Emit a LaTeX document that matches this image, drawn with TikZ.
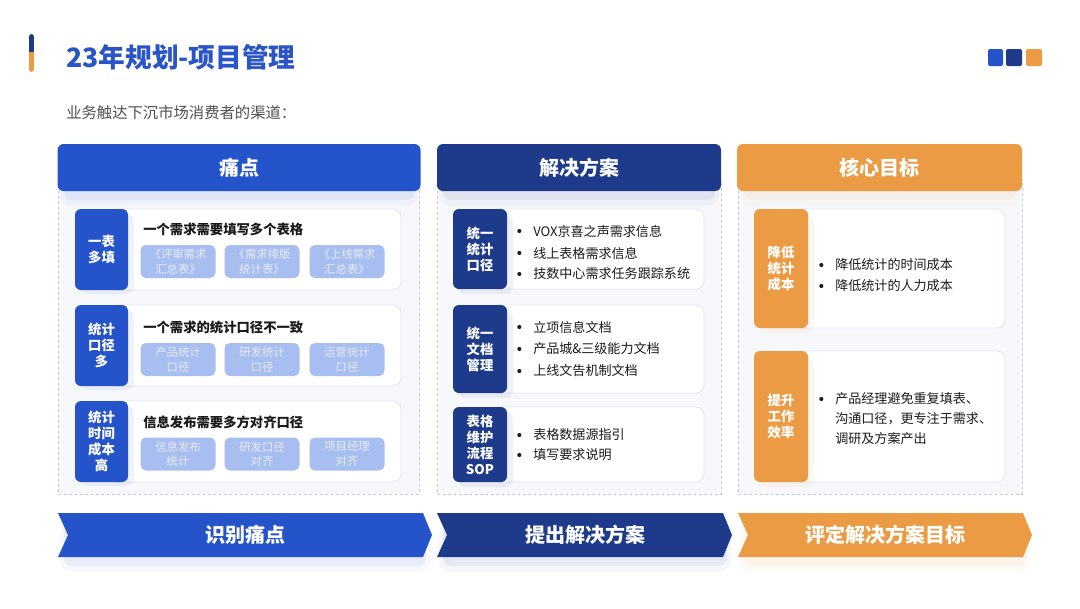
\documentclass[tikz,border=0pt]{standalone}
\usepackage{fontspec}
\setmainfont{Noto Sans CJK SC}
\definecolor{blueA}{HTML}{2553C9}
\definecolor{navyA}{HTML}{1E3A8A}
\definecolor{orangeA}{HTML}{EC9B45}
\definecolor{titleblue}{HTML}{2A55C8}
\definecolor{subfill}{HTML}{A9BEF0}
\definecolor{subtext}{HTML}{E6ECFB}
\definecolor{dashgray}{HTML}{C4C8D0}
\definecolor{panelbg}{HTML}{F7F8FC}
\definecolor{cardline}{HTML}{E0E5F3}
\definecolor{darktext}{HTML}{1A1A1A}
\definecolor{graytext}{HTML}{505050}
\newcommand{\pxu}{0.75pt}
\begin{document}
\begin{tikzpicture}[x=0.75pt,y=-0.75pt,
  softshade/.style={fill=#1, opacity=0.07, rounded corners=6pt},
  softouter/.style={fill=#1, opacity=0.04, rounded corners=9pt},
  hdr/.style={rounded corners=4.5pt, text=white, inner sep=0pt,
    font=\fontsize{15}{18}\selectfont\bfseries, minimum height=47*\pxu},
  panel/.style={draw=dashgray, line width=0.6pt, dash pattern=on 2pt off 2pt, fill=panelbg},
  card/.style={draw=cardline, line width=0.6pt, fill=white, rounded corners=6pt, inner sep=0pt},
  tabbox/.style={rounded corners=4.5pt, text=white, inner sep=0pt, align=center,
    font=\fontsize{10}{12}\selectfont\bfseries},
  subbox/.style={fill=subfill, rounded corners=4pt, text=subtext, inner sep=0pt, align=center,
    font=\fontsize{8.5}{11}\selectfont, minimum width=75*\pxu, minimum height=33*\pxu},
  ctitle/.style={anchor=west, inner sep=0pt, text=darktext, font=\fontsize{10}{12}\selectfont\bfseries},
  bdot/.style={circle, fill=darktext, inner sep=0pt, minimum size=3.1pt},
  item/.style={anchor=west, inner sep=0pt, text=darktext, font=\fontsize{9.8}{12}\selectfont},
  bitem/.style={item, label={[bdot, xshift=-8.5pt]west:{}}},
  arrtext/.style={text=white, inner sep=0pt, font=\fontsize{15}{18}\selectfont\bfseries}
]
\useasboundingbox (0,0) rectangle (1080,608);
\fill[white] (0,0) rectangle (1080,608);

% accent bar
\begin{scope}
\clip[rounded corners=2pt] (29,34) rectangle (34,72);
\fill[navyA] (29,34) rectangle (34,52);
\fill[orangeA] (29,52) rectangle (34,72);
\end{scope}

% title and subtitle
\node[anchor=west, inner sep=0pt, text=titleblue, font=\fontsize{20}{24}\selectfont\bfseries] (title) at (66,57) {23年规划-项目管理};
\node[anchor=west, inner sep=0pt, text=graytext, font=\fontsize{11.5}{14}\selectfont] (subtitle) at (66,113) {业务触达下沉市场消费者的渠道：};

% squares top right
\fill[blueA, rounded corners=1.5pt] (988,49) rectangle (1003,66);
\fill[navyA, rounded corners=1.5pt] (1006,49) rectangle (1022,66);
\fill[orangeA, rounded corners=1.5pt] (1026,49) rectangle (1042,66);

% panels
\path[panel] (58,180) rectangle (419,494);
\path[panel] (437,180) rectangle (721,494);
\path[panel] (738,180) rectangle (1022,494);

% soft glows under headers
\path[softouter=blueA] (60,160) rectangle (418,206);
\path[softshade=blueA] (64,160) rectangle (414,200);
\path[softouter=navyA] (439,160) rectangle (719,206);
\path[softshade=navyA] (443,160) rectangle (715,200);
\path[softouter=orangeA] (740,160) rectangle (1020,206);
\path[softshade=orangeA] (744,160) rectangle (1016,200);

% headers
\node[hdr, fill=blueA, minimum width=363*\pxu] (h1) at (239,167.5) {痛点};
\node[hdr, fill=navyA, minimum width=284*\pxu] (h2) at (579,167.5) {解决方案};
\node[hdr, fill=orangeA, minimum width=285*\pxu] (h3) at (879.5,167.5) {核心目标};

% ---------- column 1 ----------
\node[card, minimum width=291*\pxu, minimum height=81*\pxu] (c1r1) at (255.5,249.5) {};
\node[card, minimum width=291*\pxu, minimum height=81*\pxu] (c1r2) at (255.5,345.5) {};
\node[card, minimum width=291*\pxu, minimum height=81*\pxu] (c1r3) at (255.5,441.5) {};
\path[softshade=blueA] (80,214) rectangle (134,294);
\path[softshade=blueA] (80,310) rectangle (134,390);
\path[softshade=blueA] (80,406) rectangle (134,486);
\node[tabbox, fill=blueA, minimum width=53*\pxu, minimum height=81*\pxu] (t1r1) at (101.5,249.5) {一表\\多填};
\node[tabbox, fill=blueA, minimum width=53*\pxu, minimum height=81*\pxu] (t1r2) at (101.5,345.5) {统计\\口径\\多};
\node[tabbox, fill=blueA, minimum width=53*\pxu, minimum height=81*\pxu] (t1r3) at (101.5,441.5) {统计\\时间\\成本\\高};

\node[ctitle] (k1) at (143,229) {一个需求需要填写多个表格};
\node[subbox] (s11) at (178,261.5) {《评审需求\\汇总表》};
\node[subbox] (s12) at (262,261.5) {《需求排版\\统计表》};
\node[subbox] (s13) at (347,261.5) {《上线需求\\汇总表》};

\node[ctitle] (k2) at (143,327) {一个需求的统计口径不一致};
\node[subbox] (s21) at (178,359.5) {产品统计\\口径};
\node[subbox] (s22) at (262,359.5) {研发统计\\口径};
\node[subbox] (s23) at (347,359.5) {运营统计\\口径};

\node[ctitle] (k3) at (143,422) {信息发布需要多方对齐口径};
\node[subbox] (s31) at (178,454) {信息发布\\统计};
\node[subbox] (s32) at (262,454) {研发口径\\对齐};
\node[subbox] (s33) at (347,454) {项目经理\\对齐};

% ---------- column 2 ----------
\node[card, minimum width=214*\pxu, minimum height=80*\pxu] (c2r1) at (597,249) {};
\node[card, minimum width=214*\pxu, minimum height=88*\pxu] (c2r2) at (597,349) {};
\node[card, minimum width=214*\pxu, minimum height=75*\pxu] (c2r3) at (597,444.5) {};
\path[softshade=navyA] (458,214) rectangle (513,294);
\path[softshade=navyA] (458,310) rectangle (513,398);
\path[softshade=navyA] (458,412) rectangle (513,487);
\node[tabbox, fill=navyA, minimum width=54*\pxu, minimum height=80*\pxu] (t2r1) at (480,249) {统一\\统计\\口径};
\node[tabbox, fill=navyA, minimum width=54*\pxu, minimum height=88*\pxu] (t2r2) at (480,349) {统一\\文档\\管理};
\node[tabbox, fill=navyA, minimum width=54*\pxu, minimum height=75*\pxu] (t2r3) at (480,444.5) {表格\\维护\\流程\\SOP};

\node[bitem] (i211) at (533,231) {VOX京喜之声需求信息};
\node[bitem] (i212) at (533,253) {线上表格需求信息};
\node[bitem] (i213) at (533,274) {技数中心需求任务跟踪系统};
\node[bitem] (i221) at (533,327) {立项信息文档};
\node[bitem] (i222) at (533,349) {产品城\&三级能力文档};
\node[bitem] (i223) at (533,371) {上线文告机制文档};
\node[bitem] (i231) at (533,435) {表格数据源指引};
\node[bitem] (i232) at (533,455) {填写要求说明};

% ---------- column 3 ----------
\node[card, minimum width=215*\pxu, minimum height=119*\pxu] (c3r1) at (897.5,268.5) {};
\node[card, minimum width=215*\pxu, minimum height=131*\pxu] (c3r2) at (897.5,416.5) {};
\path[softshade=orangeA] (759,214) rectangle (814,333);
\path[softshade=orangeA] (759,356) rectangle (814,487);
\node[tabbox, fill=orangeA, minimum width=54*\pxu, minimum height=119*\pxu] (t3r1) at (781,268.5) {降低\\统计\\成本};
\node[tabbox, fill=orangeA, minimum width=54*\pxu, minimum height=131*\pxu] (t3r2) at (781,416.5) {提升\\工作\\效率};

\node[bitem] (i311) at (835,265) {降低统计的时间成本};
\node[bitem] (i312) at (835,286) {降低统计的人力成本};
\node[bitem] (i321) at (835,399) {产品经理避免重复填表、};
\node[item] (i322) at (835,419) {沟通口径，更专注于需求、};
\node[item] (i323) at (835,439) {调研及方案产出};

% ---------- bottom arrows ----------
\path[softouter=blueA] (60,522) rectangle (430,572);
\path[softshade=blueA] (64,525) rectangle (426,566);
\path[softouter=navyA] (439,522) rectangle (731,572);
\path[softshade=navyA] (443,525) rectangle (727,566);
\path[softouter=orangeA] (740,522) rectangle (1030,572);
\path[softshade=orangeA] (744,525) rectangle (1026,566);
\path[fill=blueA] (58,513) -- (423,513) -- (432,535) -- (423,557) -- (58,557) -- (68,535) -- cycle;
\path[fill=navyA] (437,513) -- (723,513) -- (732,535) -- (723,557) -- (437,557) -- (447,535) -- cycle;
\path[fill=orangeA] (738,513) -- (1023,513) -- (1032,535) -- (1023,557) -- (738,557) -- (748,535) -- cycle;
\node[arrtext] (a1) at (245,535) {识别痛点};
\node[arrtext] (a2) at (585,535) {提出解决方案};
\node[arrtext] (a3) at (885,535) {评定解决方案目标};
\end{tikzpicture}
\end{document}
